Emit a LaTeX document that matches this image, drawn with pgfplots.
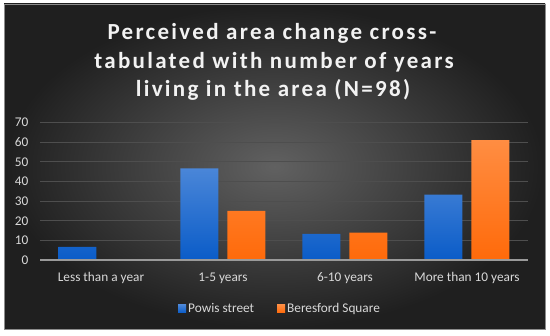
\documentclass[border=0pt]{standalone}
\usepackage{fontspec}
\setmainfont{Carlito}
\newfontfamily\titlefont[LetterSpace=10]{Carlito}
\usepackage{pgfplots}
\pgfplotsset{compat=1.18}
\definecolor{txt}{HTML}{D9D9D9}
\definecolor{gridc}{HTML}{4E4E4E}
\definecolor{axc}{HTML}{9A9A9A}
\definecolor{bluet}{HTML}{4A86D8}
\definecolor{blueb}{HTML}{0A5CC8}
\definecolor{orat}{HTML}{FF8D42}
\definecolor{orab}{HTML}{FF6A0A}
\begin{document}
\begin{tikzpicture}
\path[use as bounding box, fill=white] (0pt,0pt) rectangle (550pt,336pt);
\shade[inner color=black!62, outer color=black!88] (4pt,7pt) rectangle (545pt,332pt);
\draw[black!45, line width=0.8pt] (4pt,7pt) rectangle (545pt,332pt);
\node[anchor=base, text=white!95!black, font=\titlefont\bfseries\fontsize{23}{26}\selectfont] at (272pt,296pt) {Perceived area change cross-};
\node[anchor=base, text=white!95!black, font=\titlefont\bfseries\fontsize{23}{26}\selectfont] at (274pt,267.7pt) {tabulated with number of years};
\node[anchor=base, text=white!95!black, font=\titlefont\bfseries\fontsize{23}{26}\selectfont] at (273pt,239.3pt) {living in the area (N=98)};
\begin{axis}[
  at={(40pt,76pt)}, anchor=south west,
  scale only axis, width=488pt, height=137.3pt,
  xmin=-0.5, xmax=3.5, ymin=0, ymax=70,
  ytick={0,10,...,70},
  xtick=data,
  xticklabels={Less than a year,1-5 years,6-10 years,More than 10 years},
  ybar=9pt, bar width=38pt,
  axis line style={draw=none},
  major tick length=0pt,
  ymajorgrids, grid style={gridc, line width=1pt},
  tick label style={text=txt, font=\fontsize{13.3}{15}\selectfont},
  yticklabel style={xshift=-8pt},
  xticklabel style={anchor=base, yshift=-22pt},
  /pgf/number format/assume math mode=true,
  legend columns=2,
  legend style={at={(0.492,-0.355)}, anchor=center, draw=none, fill=none,
    text=txt, font=\fontsize{13.3}{15}\selectfont,
    /tikz/every even column/.append style={column sep=21pt}},
  legend image code/.code={\fill[#1] (2pt,-4pt) rectangle (10pt,4pt);},
  clip=false,
]
\addplot[draw=none, top color=bluet, bottom color=blueb] coordinates {(0,6.7) (1,46.7) (2,13.3) (3,33.3)};
\addplot[draw=none, top color=orat, bottom color=orab] coordinates {(0,0) (1,25.0) (2,13.9) (3,61.1)};
\legend{Powis street, Beresford Square}
\draw[axc, line width=1.5pt] (axis cs:-0.5,0) -- (axis cs:3.5,0);
\end{axis}
\end{tikzpicture}
\end{document}
